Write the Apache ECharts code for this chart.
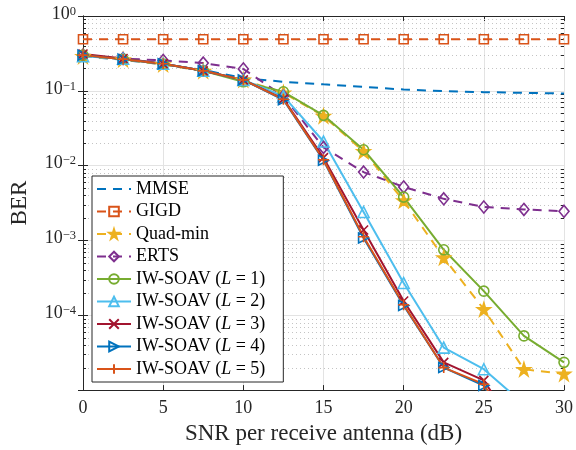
<!DOCTYPE html>
<html><head><meta charset="utf-8">
<script src="https://cdn.jsdelivr.net/npm/echarts@6/dist/echarts.min.js"></script>
<style>html,body{margin:0;padding:0;background:#fff}#c{width:576px;height:450px}</style>
</head><body><div id="c"></div>
<script>
// ---- data ----
const snr   = [0, 2.5, 5, 7.5, 10, 12.5, 15, 17.5, 20, 22.5, 25, 27.5, 30];
const mmse  = [0.29, 0.26, 0.225, 0.19, 0.148, 0.132, 0.122, 0.113, 0.104, 0.099, 0.096, 0.094, 0.092];
const gigd  = [0.49, 0.49, 0.49, 0.49, 0.49, 0.49, 0.49, 0.49, 0.49, 0.49, 0.49, 0.49, 0.49];
const quad  = [0.29, 0.262, 0.225, 0.184, 0.14, 0.094, 0.046, 0.0155, 0.0034, 5.9e-4, 1.2e-4, 1.9e-5, 1.65e-5];
const erts  = [0.30, 0.27, 0.255, 0.235, 0.196, 0.085, 0.0175, 0.0082, 0.0052, 0.0036, 0.0028, 0.0026, 0.00245];
const iw1   = [0.30, 0.265, 0.228, 0.185, 0.132, 0.097, 0.047, 0.0163, 0.0038, 7.5e-4, 2.1e-4, 5.3e-5, 2.35e-5];
const iw2   = [0.29, 0.268, 0.23, 0.186, 0.14, 0.085, 0.021, 0.0024, 2.7e-4, 3.7e-5, 1.9e-5, 6.5e-6, 2.5e-6];
const iw3   = [0.31, 0.27, 0.23, 0.185, 0.14, 0.078, 0.0128, 0.00138, 1.55e-4, 2.35e-5, 1.35e-5, 2e-6, 3e-7];
const iw4   = [0.30, 0.265, 0.23, 0.185, 0.14, 0.076, 0.0118, 0.00108, 1.35e-4, 2.0e-5, 1.15e-5, 1.5e-6, 2e-7];
const iw5   = [0.30, 0.265, 0.23, 0.185, 0.14, 0.077, 0.012, 0.00112, 1.38e-4, 2.0e-5, 1.2e-5, 1.5e-6, 2e-7];
const names = ['MMSE', 'GIGD', 'Quad-min', 'ERTS',
  'IW-SOAV (L = 1)', 'IW-SOAV (L = 2)', 'IW-SOAV (L = 3)', 'IW-SOAV (L = 4)', 'IW-SOAV (L = 5)'];
const xTicks = [0, 5, 10, 15, 20, 25, 30];
const yExp = [-5, -4, -3, -2, -1, 0];

// ---- styling ----
const SERIF = '"Liberation Serif", "Times New Roman", serif';
const AX = '#262626';
function starPath() {
  let s = '';
  for (let i = 0; i < 10; i++) {
    const r = i % 2 ? 19.1 : 50;
    const a = -Math.PI / 2 + i * Math.PI / 5;
    s += (i ? 'L' : 'M') + (50 + r * Math.cos(a)).toFixed(2) + ',' + (50 + r * Math.sin(a)).toFixed(2);
  }
  return 'path://' + s + 'Z';
}
const SYM = {
  star: starPath(),
  x: 'path://M0,0L10,10M0,10L10,0',
  plus: 'path://M5,0L5,10M0,5L10,5',
  tri: 'path://M5,0L10,9L0,9Z',
  triR: 'path://M0,0L9,5L0,10Z'
};
function mk(name, vals, color, symbol, size, dashed, filled) {
  return {
    name, type: 'line', clip: true, z: 3,
    data: snr.map((x, i) => [x, vals[i]]),
    symbol: symbol || 'none', symbolSize: size, showSymbol: !!symbol, showAllSymbol: true,
    lineStyle: { color, width: 2, type: dashed ? [9, 7] : 'solid' },
    itemStyle: { color: filled ? color : 'rgba(0,0,0,0)', borderColor: color, borderWidth: 1.6 },
    emphasis: { disabled: true }, animation: false
  };
}
const minorVals = [];
yExp.slice(0, -1).forEach(e => { for (let m = 2; m <= 9; m++) minorVals.push([0, m * Math.pow(10, e)]); });

const minorSeries = {
  type: 'custom', name: 'minor', z: 1, silent: true, animation: false,
  data: minorVals, encode: { x: 0, y: 1 }, clip: false,
  renderItem(params, api) {
    const p0 = api.coord([0, api.value(1)]);
    const p1 = api.coord([30, api.value(1)]);
    const y = Math.round(p0[1]) + 0.5;
    return { type: 'group', children: [
      { type: 'line', shape: { x1: p0[0] + 1, y1: y, x2: p1[0] - 1, y2: y },
        style: { stroke: '#c4c4c4', lineWidth: 1, lineDash: [1, 3] } },
      { type: 'line', shape: { x1: p0[0], y1: y, x2: p0[0] + 3, y2: y }, style: { stroke: AX, lineWidth: 1 } },
      { type: 'line', shape: { x1: p1[0] - 3, y1: y, x2: p1[0], y2: y }, style: { stroke: AX, lineWidth: 1 } }
    ]};
  }
};

const chart = echarts.init(document.getElementById('c'), null, { renderer: 'canvas' });
const expFmt = v => {
  const e = Math.round(Math.log10(v));
  if (e === -5) return '';
  return '{b|10}{s|' + (e < 0 ? '\u2212' + (-e) : e) + '}';
};
const baseAxis = {
  axisLine: { show: true, lineStyle: { color: AX, width: 1 } },
  axisTick: { show: true, inside: true, length: 5, lineStyle: { color: AX } }
};
const legendData = names.map((n, i) => i === 0
  ? { name: n, itemStyle: { color: 'rgba(0,0,0,0)', borderColor: 'rgba(0,0,0,0)', borderWidth: 0 } }
  : { name: n });
chart.setOption({
  animation: false,
  backgroundColor: '#fff',
  grid: { left: 80, right: 12, top: 16, bottom: 57, containLabel: false },
  xAxis: [
    Object.assign({}, baseAxis, {
      type: 'value', min: 0, max: 30, interval: 5, position: 'bottom',
      name: 'SNR per receive antenna (dB)', nameLocation: 'middle', nameGap: 30,
      nameTextStyle: { fontFamily: SERIF, fontSize: 23, color: AX },
      axisLabel: { fontFamily: SERIF, fontSize: 18, color: AX, margin: 9,
        formatter: v => xTicks.includes(v) ? String(v) : '' },
      splitLine: { show: true, lineStyle: { color: '#e3e3e3', width: 1 } }
    }),
    Object.assign({}, baseAxis, {
      type: 'value', min: 0, max: 30, interval: 5, position: 'top',
      axisLabel: { show: false }, splitLine: { show: false }
    })
  ],
  yAxis: [
    Object.assign({}, baseAxis, {
      type: 'log', logBase: 10, min: 1e-5, max: 1, position: 'left',
      name: 'BER', nameLocation: 'middle', nameGap: 52,
      nameTextStyle: { fontFamily: SERIF, fontSize: 23, color: AX },
      axisLabel: { margin: 7, color: AX, formatter: expFmt, padding: [0, 0, 4, 0],
        rich: {
          b: { fontFamily: SERIF, fontSize: 18, lineHeight: 18, verticalAlign: 'bottom', color: AX },
          s: { fontFamily: SERIF, fontSize: 12.5, lineHeight: 12, verticalAlign: 'top', padding: [0, 0, 10, 0], color: AX }
        } },
      splitLine: { show: true, lineStyle: { color: '#e3e3e3', width: 1 } }
    }),
    Object.assign({}, baseAxis, {
      type: 'log', logBase: 10, min: 1e-5, max: 1, position: 'right',
      axisLabel: { show: false }, splitLine: { show: false }
    })
  ],
  legend: {
    data: legendData, orient: 'vertical', left: 92, top: 176,
    padding: [4, 18, 4, 4], itemGap: 4.5, itemWidth: 34, itemHeight: 12,
    backgroundColor: '#fff', borderColor: AX, borderWidth: 1, borderRadius: 0,
    selectedMode: false,
    textStyle: { fontFamily: SERIF, fontSize: 18, lineHeight: 18, color: '#000',
      rich: { i: { fontFamily: SERIF, fontSize: 18, lineHeight: 18, fontStyle: 'italic', color: '#000' } } },
    formatter: n => n.replace('(L', '({i|L}')
  },
  series: [
    minorSeries,
    mk(names[0], mmse, '#0072BD', null, 0, true, false),
    mk(names[1], gigd, '#D95319', 'rect', 9, true, false),
    mk(names[2], quad, '#EDB120', SYM.star, 13, true, true),
    mk(names[3], erts, '#7E2F8E', 'diamond', [10, 12], true, false),
    mk(names[4], iw1, '#77AC30', 'circle', 10, false, false),
    mk(names[5], iw2, '#4DBEEE', SYM.tri, 11, false, false),
    mk(names[6], iw3, '#A2142F', SYM.x, 9, false, false),
    mk(names[7], iw4, '#0072BD', SYM.triR, 10, false, false),
    mk(names[8], iw5, '#D95319', SYM.plus, 11, false, false)
  ]
});
</script>
</body></html>
